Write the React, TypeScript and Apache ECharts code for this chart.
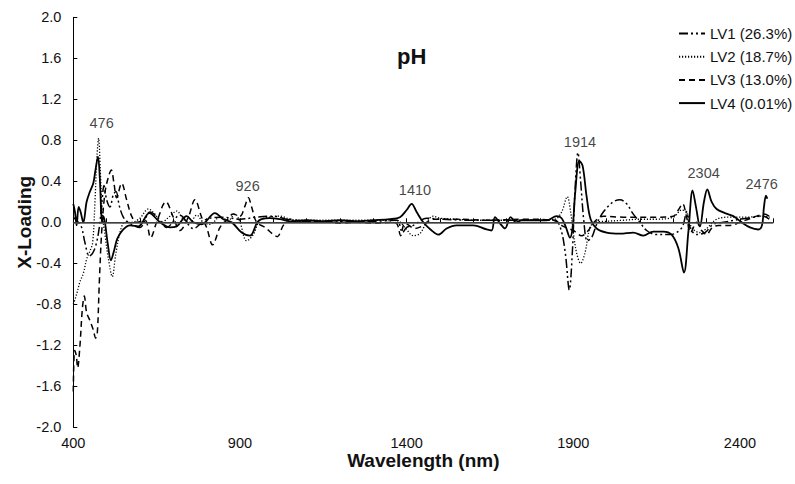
import React, { useEffect, useRef } from "react";
import * as echarts from "echarts";

// Wavelength (nm) / X-loading pairs
const lv1: [number, number][] = [
  [400, 0.05], [415, 0.0], [425, -0.05], [435, -0.2], [448, -0.33], [458, -0.3], [468, -0.22],
  [478, -0.05], [486, 0.2], [492, 0.36], [500, 0.22], [510, 0.15], [520, 0.27], [528, 0.3],
  [538, 0.16], [550, 0.05], [565, 0.0], [600, -0.05], [630, 0.1], [660, 0.02], [680, -0.05],
  [720, 0.07], [760, -0.06], [800, 0.03], [850, 0.05], [900, 0.03], [950, 0.05], [1000, 0.06],
  [1050, 0.02], [1100, 0.01], [1200, 0.01], [1300, 0.01], [1370, 0.02], [1388, -0.1], [1400, -0.05],
  [1420, -0.03], [1460, 0.04], [1500, 0.03], [1600, 0.02], [1700, 0.02], [1800, 0.02], [1845, 0.02],
  [1862, -0.06], [1876, -0.3], [1888, -0.66], [1897, -0.3], [1905, 0.3], [1914, 0.68], [1922, 0.4],
  [1932, 0.0], [1942, -0.18], [1955, -0.15], [1970, -0.02], [1990, 0.1], [2020, 0.2], [2040, 0.22],
  [2060, 0.18], [2080, 0.08], [2100, 0.0], [2120, -0.08], [2150, -0.12], [2190, -0.12], [2210, -0.1],
  [2228, -0.04], [2240, 0.1], [2250, -0.05], [2270, -0.12], [2295, -0.1], [2320, -0.02], [2350, 0.0],
  [2400, 0.03], [2440, 0.05], [2470, 0.06], [2488, 0.03],
];

const lv2: [number, number][] = [
  [400, -0.8], [410, -0.7], [420, -0.58], [430, -0.5], [440, -0.36], [450, -0.28], [458, -0.2],
  [465, 0.2], [471, 0.65], [476, 0.82], [481, 0.5], [487, 0.08], [495, -0.12], [505, -0.35],
  [517, -0.53], [527, -0.32], [540, -0.1], [555, 0.0], [575, 0.0], [600, 0.04], [625, 0.13],
  [645, 0.08], [665, 0.0], [690, 0.06], [710, 0.11], [730, 0.03], [750, 0.0], [770, 0.07],
  [790, 0.0], [810, -0.02], [840, 0.05], [865, 0.02], [885, 0.08], [900, 0.0], [920, -0.18],
  [940, -0.12], [960, 0.02], [990, 0.05], [1020, 0.06], [1050, 0.03], [1100, 0.02], [1200, 0.02],
  [1300, 0.02], [1370, 0.02], [1395, -0.05], [1420, -0.13], [1440, -0.11], [1460, 0.0], [1480, 0.06],
  [1500, 0.04], [1550, 0.03], [1600, 0.02], [1700, 0.02], [1800, 0.02], [1845, 0.03], [1865, 0.1],
  [1882, 0.25], [1892, 0.1], [1900, -0.1], [1910, -0.3], [1922, -0.4], [1935, -0.3], [1950, -0.05],
  [1965, 0.0], [2000, 0.01], [2050, 0.02], [2100, 0.03], [2150, 0.03], [2200, 0.05], [2225, 0.12],
  [2240, 0.1], [2255, -0.05], [2280, -0.1], [2300, -0.06], [2330, 0.03], [2370, 0.05], [2420, 0.05],
  [2460, 0.06], [2490, 0.05],
];

const lv3: [number, number][] = [
  [400, -1.65], [404, -1.25], [409, -1.3], [413, -1.42], [420, -1.2], [427, -0.85], [433, -0.72],
  [440, -0.88], [450, -0.96], [460, -1.05], [467, -1.13], [472, -1.08], [478, -0.59], [485, -0.1],
  [495, 0.29], [506, 0.45], [514, 0.51], [522, 0.38], [530, 0.24], [545, 0.38], [560, 0.22],
  [575, 0.06], [590, 0.0], [615, 0.02], [632, -0.15], [650, 0.0], [678, 0.2], [700, 0.05],
  [720, -0.08], [745, 0.05], [765, 0.22], [785, 0.05], [800, -0.05], [818, -0.22], [840, -0.05],
  [860, 0.02], [880, 0.08], [900, 0.06], [914, 0.15], [925, 0.24], [935, 0.15], [950, 0.0],
  [975, -0.05], [1000, -0.12], [1012, -0.14], [1030, -0.03], [1050, 0.03], [1100, 0.0],
  [1150, 0.01], [1200, -0.01], [1250, 0.0], [1300, -0.01], [1360, 0.0], [1372, -0.02],
  [1382, -0.13], [1395, -0.01], [1425, -0.06], [1445, -0.04], [1480, 0.03], [1550, 0.03],
  [1650, 0.02], [1750, 0.03], [1840, 0.02], [1870, -0.04], [1900, -0.08], [1925, -0.13],
  [1945, -0.08], [1962, 0.0], [1990, 0.06], [2050, 0.05], [2100, 0.05], [2150, 0.05], [2200, 0.06],
  [2215, 0.12], [2228, 0.18], [2240, 0.05], [2252, -0.1], [2270, 0.0], [2285, -0.08], [2300, -0.12],
  [2315, -0.06], [2335, -0.03], [2370, -0.03], [2400, 0.0], [2425, 0.03], [2450, 0.06], [2472, 0.08],
  [2488, 0.06],
];

const lv4: [number, number][] = [
  [400, 0.18], [405, 0.1], [410, -0.03], [416, 0.15], [422, 0.1], [430, 0.0], [440, 0.2],
  [450, 0.3], [460, 0.38], [466, 0.5], [474, 0.64], [480, 0.4], [486, 0.0], [490, 0.06],
  [495, 0.0], [503, -0.2], [513, -0.37], [522, -0.28], [532, -0.16], [550, -0.07], [570, -0.03],
  [595, -0.04], [628, 0.09], [660, 0.0], [690, -0.05], [710, -0.04], [740, 0.06], [760, 0.0],
  [785, -0.02], [825, 0.09], [850, 0.03], [875, 0.0], [905, -0.1], [930, -0.13], [952, 0.0],
  [965, 0.03], [990, 0.04], [1020, 0.03], [1050, 0.01], [1100, 0.02], [1150, 0.01], [1200, 0.02],
  [1250, 0.01], [1300, 0.02], [1350, 0.03], [1380, 0.05], [1400, 0.12], [1415, 0.18], [1430, 0.1],
  [1450, 0.0], [1475, -0.08], [1495, -0.12], [1520, -0.06], [1550, -0.03], [1600, -0.03],
  [1640, -0.07], [1655, -0.08], [1665, 0.05], [1680, -0.01], [1695, -0.06], [1712, 0.05],
  [1728, 0.0], [1745, 0.02], [1780, 0.02], [1820, 0.02], [1850, 0.06], [1865, 0.04], [1878, -0.05],
  [1890, -0.15], [1898, -0.05], [1906, 0.3], [1918, 0.6], [1928, 0.55], [1940, 0.25], [1952, 0.03],
  [1970, -0.06], [2000, -0.1], [2040, -0.11], [2080, -0.1], [2110, -0.13], [2140, -0.09],
  [2170, -0.09], [2195, -0.12], [2215, -0.25], [2232, -0.49], [2245, -0.1], [2258, 0.31],
  [2268, 0.15], [2280, -0.04], [2292, 0.2], [2302, 0.32], [2315, 0.2], [2330, 0.13], [2355, 0.09],
  [2380, 0.06], [2405, 0.0], [2430, -0.05], [2455, -0.07], [2466, -0.03], [2472, 0.15],
  [2478, 0.26], [2482, 0.23],
];

const seriesNames = ["LV1 (26.3%)", "LV2 (18.7%)", "LV3 (13.0%)", "LV4 (0.01%)"];

// Peak annotations: text and the (wavelength, loading) spot where the text sits
const peakTexts = ["476", "926", "1410", "1914", "2304", "2476"];
const peakSpots: [number, number][] = [
  [485, 0.97], [923, 0.35], [1425, 0.315], [1920, 0.786], [2291, 0.484], [2465, 0.374],
];

const FONT = "Liberation Sans, Arial, sans-serif";

export default function App() {
  const ref = useRef<HTMLDivElement>(null);
  useEffect(() => {
    document.body.style.margin = "0";
    if (!ref.current) return;
    const chart = echarts.init(ref.current, undefined, { renderer: "svg" });
    const lineTypes: any[] = [
      [9, 3, 2, 3, 2, 3],
      [1.2, 1.8],
      [6, 4],
      "solid",
    ];
    const widths = [1.5, 1.3, 1.5, 1.8];
    const datas = [lv1, lv2, lv3, lv4];
    const series: any[] = datas.map((d, i) => ({
      name: seriesNames[i],
      type: "line",
      data: d,
      smooth: 0.35,
      symbol: "none",
      lineStyle: { color: "#000", width: widths[i], type: lineTypes[i] },
      itemStyle: { color: "#000" },
      z: 3,
    }));
    series[3].markLine = {
      silent: true,
      symbol: ["none", "none"],
      label: { show: false },
      lineStyle: { color: "#555", width: 1.5, type: "solid" },
      data: [{ yAxis: 0 }],
    };
    series.push({
      name: "peaks",
      type: "scatter",
      symbolSize: 0,
      data: peakSpots.map((p, i) => ({ value: p, name: peakTexts[i] })),
      label: {
        show: true,
        position: "inside",
        formatter: (p: any) => p.name,
        color: "#111",
        fontSize: 14.5,
        fontFamily: FONT,
      },
      z: 5,
    });
    chart.setOption({
      animation: false,
      backgroundColor: "#fff",
      title: {
        text: "pH",
        left: 392,
        top: 40,
        textStyle: { fontSize: 22, fontWeight: "bold", color: "#111", fontFamily: FONT },
      },
      legend: {
        data: seriesNames,
        orient: "vertical",
        left: 678,
        top: 26,
        padding: 0,
        itemWidth: 26,
        itemHeight: 14,
        itemGap: 8.2,
        itemStyle: { opacity: 0, borderWidth: 0 },
        textStyle: { fontSize: 15, color: "#111", fontFamily: FONT },
      },
      grid: { left: 73.3, right: 21.7, top: 17.3, bottom: 56.7, containLabel: false },
      xAxis: {
        type: "value",
        min: 400,
        max: 2500,
        interval: 100,
        name: "Wavelength (nm)",
        nameLocation: "middle",
        nameGap: 24,
        nameMoveOverlap: false,
        nameTextStyle: { fontSize: 19, fontWeight: "bold", color: "#111", fontFamily: FONT },
        axisLine: { lineStyle: { color: "#000", width: 1 } },
        axisTick: { inside: true, length: 4, lineStyle: { color: "#000" } },
        axisLabel: {
          fontSize: 14.5,
          color: "#111",
          fontFamily: FONT,
          margin: 8,
          showMinLabel: true,
          formatter: (v: number) => ((v - 400) % 500 === 0 ? String(v) : ""),
        },
        splitLine: { show: false },
      },
      yAxis: {
        type: "value",
        min: -2,
        max: 2,
        interval: 0.4,
        name: "X-Loading",
        nameLocation: "middle",
        nameGap: 39,
        nameMoveOverlap: false,
        nameTextStyle: { fontSize: 19, fontWeight: "bold", color: "#111", fontFamily: FONT },
        axisLine: { show: true, lineStyle: { color: "#000", width: 1 } },
        axisTick: { show: true, inside: true, length: 4, lineStyle: { color: "#000" } },
        axisLabel: {
          fontSize: 14.5,
          color: "#111",
          fontFamily: FONT,
          margin: 12,
          formatter: (v: number) => (Math.abs(v) < 1e-9 ? "0.0" : v.toFixed(1)),
        },
        splitLine: { show: false },
      },
      series,
    });
    return () => chart.dispose();
  }, []);
  return <div ref={ref} style={{ width: 795, height: 484 }} />;
}
